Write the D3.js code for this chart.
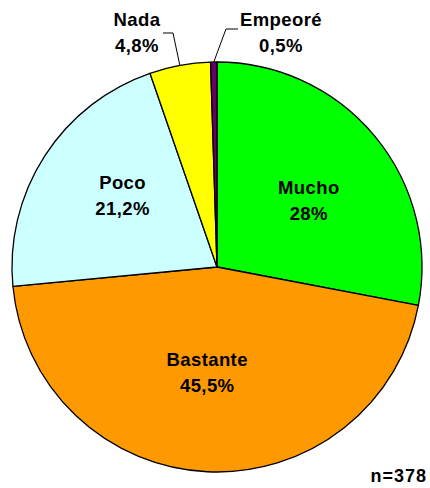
<!DOCTYPE html>
<html>
<head>
<meta charset="utf-8">
<script src="https://cdn.jsdelivr.net/npm/d3@7/dist/d3.min.js"></script>
<style>
  html, body { margin: 0; padding: 0; background: #fff; }
  text { font-family: "Liberation Sans", Arial, sans-serif; font-weight: bold; fill: #000; }
</style>
</head>
<body>
<svg id="svg"></svg>
<script>
// data
const categories = ["Mucho", "Bastante", "Poco", "Nada", "Empeoré"];
const percents = [28, 45.5, 21.2, 4.8, 0.5];
const percentLabels = ["28%", "45,5%", "21,2%", "4,8%", "0,5%"];
const colors = ["#00ff00", "#ff9900", "#ccffff", "#ffff00", "#660066"];
const sampleNote = "n=378";

let layout = {"width": 430, "height": 488,
              "cx": 217, "cy": 267, "radius": 205,
              "fontSize": 18.5, "lineGap": 26};

// inside labels: offsets from the centroid at 0.6r
const insideOffsets = {"Mucho": [-3, 12], "Bastante": [-4, -17], "Poco": [9, -4]};
// outside labels: elbow position and text anchor spot
const outside = {
  "Nada":    {"elbow": [173, 33], "end": [163, 33], "text": [137, 26]},
  "Empeoré": {"elbow": [226, 29], "end": [238, 29], "text": [281, 26]}
};

const data = categories.map((c, i) => ({"name": c, "value": percents[i], "label": percentLabels[i], "color": colors[i]}));

let svg = d3.select("#svg")
            .attr("width", layout.width)
            .attr("height", layout.height);

let pie = d3.pie()
            .value(d => d.value)
            .sort(null);

let arcs = pie(data);

let arc = d3.arc()
            .innerRadius(0)
            .outerRadius(layout.radius);

let labelArc = d3.arc()
                 .innerRadius(layout.radius * 0.6)
                 .outerRadius(layout.radius * 0.6);

let g = svg.append("g")
           .attr("transform", `translate(${layout.cx},${layout.cy})`);

g.selectAll(".slice")
 .data(arcs)
 .join("path")
 .attr("class", "slice")
 .attr("d", arc)
 .attr("fill", d => d.data.color)
 .attr("stroke", "#000")
 .attr("stroke-width", 1.3)
 .attr("stroke-linejoin", "round");

// labels inside slices
let inside = arcs.filter(d => insideOffsets[d.data.name]);

let insideText = svg.selectAll(".insideLabel")
                    .data(inside)
                    .join("text")
                    .attr("class", "insideLabel")
                    .attr("text-anchor", "middle")
                    .attr("font-size", layout.fontSize)
                    .attr("letter-spacing", 0.4)
                    .attr("transform", d => {
                      let c = labelArc.centroid(d);
                      let o = insideOffsets[d.data.name];
                      return `translate(${layout.cx + c[0] + o[0]},${layout.cy + c[1] + o[1]})`;
                    });

insideText.append("tspan")
          .attr("x", 0)
          .attr("y", -layout.lineGap / 2 + 6)
          .text(d => d.data.name);

insideText.append("tspan")
          .attr("x", 0)
          .attr("y", layout.lineGap / 2 + 6)
          .text(d => d.data.label);

// small slices: leader lines and labels above the pie
let small = arcs.filter(d => outside[d.data.name]);

svg.selectAll(".leader")
   .data(small)
   .join("polyline")
   .attr("class", "leader")
   .attr("fill", "none")
   .attr("stroke", "#000")
   .attr("stroke-width", 1)
   .attr("points", d => {
     let a = (d.startAngle + d.endAngle) / 2;
     let p0 = [layout.cx + layout.radius * Math.sin(a), layout.cy - layout.radius * Math.cos(a)];
     let o = outside[d.data.name];
     return [p0, o.elbow, o.end].map(p => p.join(",")).join(" ");
   });

let outText = svg.selectAll(".outsideLabel")
                 .data(small)
                 .join("text")
                 .attr("class", "outsideLabel")
                 .attr("text-anchor", "middle")
                 .attr("font-size", layout.fontSize)
                 .attr("letter-spacing", 0.4)
                 .attr("transform", d => `translate(${outside[d.data.name].text[0]},${outside[d.data.name].text[1]})`);

outText.append("tspan")
       .attr("x", 0)
       .attr("y", 0)
       .text(d => d.data.name);

outText.append("tspan")
       .attr("x", 0)
       .attr("y", layout.lineGap)
       .text(d => d.data.label);

svg.append("text")
   .attr("x", 427)
   .attr("y", 482)
   .attr("text-anchor", "end")
   .attr("font-size", 18)
   .attr("letter-spacing", 1)
   .text(sampleNote);
</script>
</body>
</html>
